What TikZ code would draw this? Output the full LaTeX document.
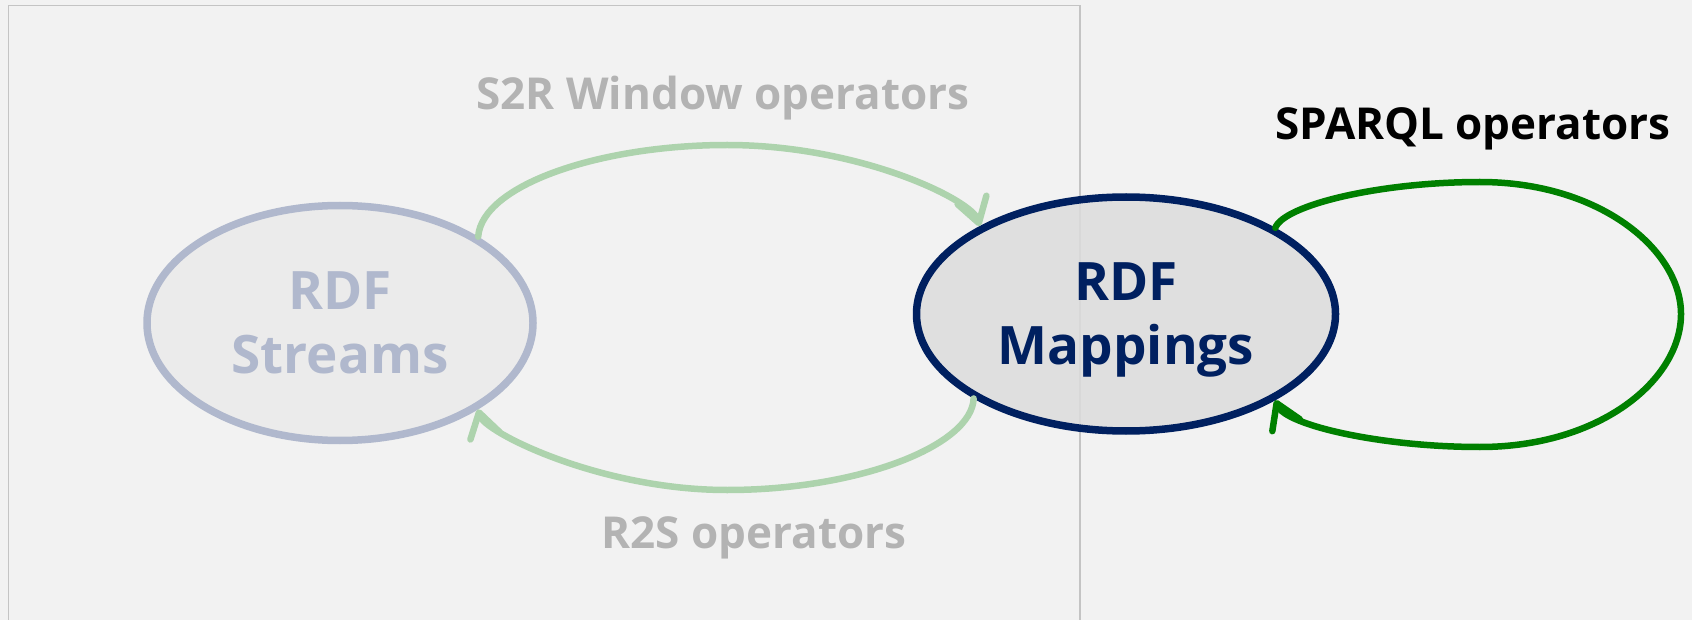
\documentclass[tikz,border=0pt]{standalone}
\usepackage{fontspec}
\setmainfont{Open Sans}
\usetikzlibrary{shapes.geometric,arrows.meta}
\definecolor{bg}{HTML}{F2F2F2}
\definecolor{framegray}{HTML}{C4C4C4}
\definecolor{strfill}{HTML}{EBEBEB}
\definecolor{strline}{HTML}{B0B8CD}
\definecolor{mapfill}{HTML}{DCDCDC}
\definecolor{navy}{HTML}{002060}
\definecolor{lgreen}{HTML}{ADD3AD}
\definecolor{lgray}{HTML}{B3B3B3}
\definecolor{dgreen}{HTML}{008000}
\begin{document}
\begin{tikzpicture}[x=1pt,y=-1pt,
  blob/.style={ellipse, line width=7.5pt, inner sep=0pt, align=center, text depth=0pt,
    font=\bfseries\fontsize{53}{64}\selectfont},
  oplabel/.style={font=\bfseries\fontsize{44}{50}\selectfont, anchor=base, inner sep=0pt},
  fadedarc/.style={draw=lgreen, line width=6.5pt, line cap=round,
    -{Straight Barb[length=24pt,width=30pt,round]}},
  looparc/.style={draw=dgreen, line width=6.5pt, line cap=round,
    -{Straight Barb[length=24pt,width=30pt,round]}}
]
\useasboundingbox (0,0) rectangle (1692,620);
\fill[bg] (0,0) rectangle (1692,620);
\draw[framegray, line width=1.2pt] (8.5,625) -- (8.5,5.5) -- (1080,5.5) -- (1080,625);

\node[blob, draw=strline, fill=strfill, text=strline, minimum width=386pt, minimum height=235pt]
  (streams) at (340,323) {RDF\\Streams};
\node[blob, draw=navy, fill=mapfill, fill opacity=0.85, text opacity=1, text=navy,
  minimum width=419pt, minimum height=234pt]
  (map) at (1126,314) {RDF\\Mappings};

\node[oplabel, text=lgray] (s2r) at (723,109.5) {S2R Window operators};
\node[oplabel, text=lgray] (r2s) at (754,548) {R2S operators};
\node[oplabel, text=black] (sparql) at (1473,140) {SPARQL operators};

\draw[fadedarc] (streams.32) .. controls (482,185) and (600,145) .. (727,145)
  .. controls (860,145) and (972,200) .. (map.149);
\draw[fadedarc] (map.209) .. controls (972,445) and (860,490) .. (727,490)
  .. controls (600,490) and (484,432) .. (streams.-32);
\draw[looparc] (map.30) .. controls (1284,205) and (1380,182) .. (1480,182)
  .. controls (1600,182) and (1681,250) .. (1681,314)
  .. controls (1681,380) and (1600,447) .. (1480,447)
  .. controls (1380,447) and (1286,425) .. (map.-30);
\end{tikzpicture}
\end{document}
